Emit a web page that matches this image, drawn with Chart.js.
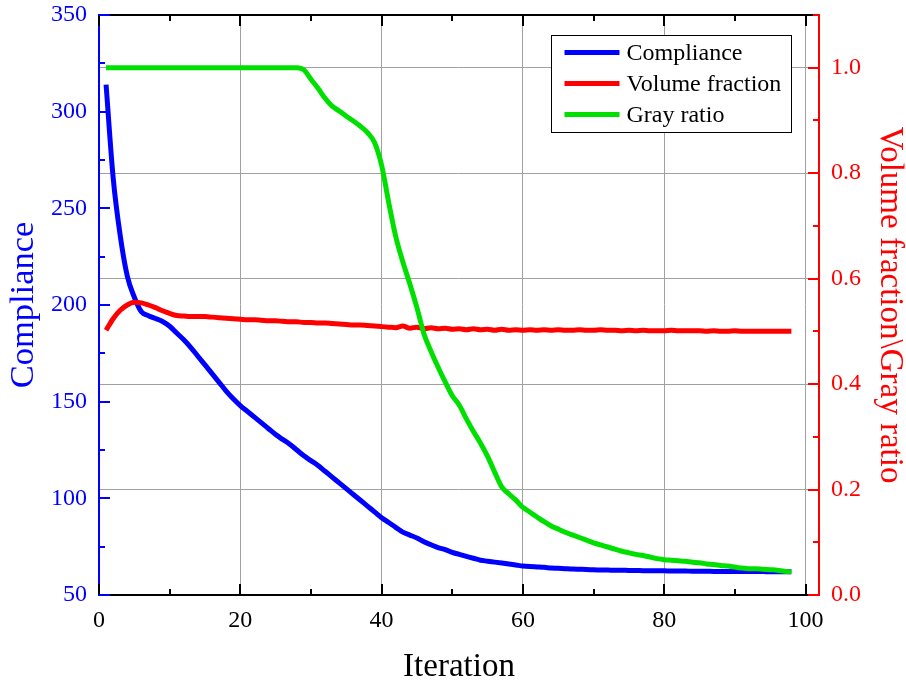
<!DOCTYPE html>
<html><head><meta charset="utf-8">
<script src="https://cdn.jsdelivr.net/npm/chart.js@4.4.0/dist/chart.umd.min.js"></script>
<style>html,body{margin:0;padding:0;background:#fff;}#wrap{width:906px;height:686px;}</style>
</head><body><div id="wrap"><canvas id="c" width="906" height="686"></canvas></div>
<script>
const iterations = [1,2,3,4,5,6,7,8,9,10,11,12,13,14,15,16,17,18,19,20,21,22,23,24,25,26,27,28,29,30,31,32,33,34,35,36,37,38,39,40,41,42,43,44,45,46,47,48,49,50,51,52,53,54,55,56,57,58,59,60,61,62,63,64,65,66,67,68,69,70,71,72,73,74,75,76,77,78,79,80,81,82,83,84,85,86,87,88,89,90,91,92,93,94,95,96,97,98];
const compliance = [314,266,236,215,204,196.5,194.5,193,191.5,189,185.5,182,178,173.5,169,164.5,160,155.5,151.5,148,145,142,139,136,133,130.5,128,125,122,119.5,117,114,111,108,105,102,99,96,93,90,87.5,85,82.5,81,79.5,77.5,76,74.5,73.5,72,71,70,69,68,67.5,67,66.5,66,65.5,65,64.7,64.5,64.3,64,63.8,63.6,63.4,63.3,63.2,63,62.9,62.9,62.8,62.8,62.7,62.7,62.6,62.6,62.5,62.5,62.4,62.4,62.4,62.3,62.3,62.3,62.2,62.2,62.2,62.2,62.1,62.1,62.1,62.1,62,62,62,62];
const volumeFraction = [0.502,0.524,0.540,0.550,0.555,0.554,0.550,0.545,0.539,0.534,0.530,0.529,0.528,0.528,0.528,0.527,0.526,0.525,0.524,0.523,0.522,0.522,0.521,0.520,0.520,0.519,0.518,0.518,0.517,0.517,0.516,0.516,0.515,0.514,0.513,0.512,0.512,0.511,0.510,0.509,0.508,0.507,0.510,0.506,0.508,0.505,0.507,0.505,0.506,0.504,0.505,0.503,0.505,0.503,0.504,0.502,0.504,0.502,0.503,0.502,0.503,0.502,0.503,0.502,0.503,0.502,0.502,0.503,0.502,0.502,0.503,0.502,0.502,0.501,0.502,0.501,0.502,0.501,0.501,0.501,0.502,0.501,0.501,0.501,0.501,0.500,0.501,0.500,0.500,0.501,0.500,0.500,0.500,0.500,0.500,0.500,0.500,0.500];
const grayRatio = [1,1,1,1,1,1,1,1,1,1,1,1,1,1,1,1,1,1,1,1,1,1,1,1,1,1,1,1,0.996,0.978,0.961,0.942,0.927,0.918,0.908,0.899,0.889,0.877,0.858,0.815,0.745,0.680,0.632,0.590,0.545,0.495,0.462,0.432,0.404,0.378,0.360,0.334,0.310,0.288,0.263,0.233,0.205,0.192,0.180,0.166,0.157,0.148,0.139,0.131,0.125,0.119,0.114,0.109,0.104,0.099,0.095,0.091,0.087,0.083,0.080,0.077,0.075,0.072,0.069,0.067,0.066,0.065,0.064,0.062,0.061,0.059,0.058,0.056,0.055,0.053,0.051,0.050,0.050,0.049,0.048,0.047,0.045,0.044];

const xMajorTicks = [0,20,40,60,80,100];
const xMinorTicks = [10,30,50,70,90];
const leftMajorTicks = [50,100,150,200,250,300,350];
const leftMinorTicks = [75,125,175,225,275,325];
const rightMajorTicks = [0,0.2,0.4,0.6,0.8,1.0];
const rightMinorTicks = [0.1,0.3,0.5,0.7,0.9,1.1];

const FONT = "'Liberation Serif','Times New Roman',serif";
const GRID = '#a0a0a0';
const BLUE = '#0000ff', RED = '#ff0000', GREEN = '#00e000';

function pts(ys){ return iterations.map((x,i)=>({x:x,y:ys[i]})); }
function noPad(s){ s.paddingTop = 0; s.paddingBottom = 0; s.paddingLeft = 0; s.paddingRight = 0; }

const inwardTicks = {
  id:'inwardTicks',
  afterDraw(chart){
    const ctx = chart.ctx, a = chart.chartArea;
    const sx = chart.scales.x, sl = chart.scales.y, sr = chart.scales.y2;
    ctx.save(); ctx.lineWidth = 2; ctx.lineCap = 'butt';
    const seg = (x1,y1,x2,y2,c)=>{ctx.strokeStyle=c;ctx.beginPath();ctx.moveTo(x1,y1);ctx.lineTo(x2,y2);ctx.stroke();};
    const L = 11, S = 6;
    xMajorTicks.forEach(v=>{const p=Math.round(sx.getPixelForValue(v)); seg(p,a.bottom,p,a.bottom-L,'#000'); seg(p,a.top,p,a.top+L,'#000');});
    xMinorTicks.forEach(v=>{const p=Math.round(sx.getPixelForValue(v)); seg(p,a.bottom,p,a.bottom-S,'#000'); seg(p,a.top,p,a.top+S,'#000');});
    leftMajorTicks.forEach(v=>{const p=Math.round(sl.getPixelForValue(v)); seg(a.left,p,a.left+L,p,BLUE);});
    leftMinorTicks.forEach(v=>{const p=Math.round(sl.getPixelForValue(v)); seg(a.left,p,a.left+S,p,BLUE);});
    rightMajorTicks.forEach(v=>{const p=Math.round(sr.getPixelForValue(v)); seg(a.right,p,a.right-L,p,RED);});
    rightMinorTicks.forEach(v=>{const p=Math.round(sr.getPixelForValue(v)); seg(a.right,p,a.right-S,p,RED);});
    ctx.restore();
  }
};

const boxLegend = {
  id:'boxLegend',
  afterDraw(chart){
    const ctx = chart.ctx, a = chart.chartArea;
    const bx = a.right - 267.5, by = a.top + 20.5, bw = 240, bh = 97;
    ctx.save();
    ctx.fillStyle = '#fff'; ctx.fillRect(bx,by,bw,bh);
    ctx.strokeStyle = '#000'; ctx.lineWidth = 1; ctx.strokeRect(bx,by,bw,bh);
    ctx.font = '24px ' + FONT; ctx.textBaseline = 'middle'; ctx.textAlign = 'left';
    const ds = chart.data.datasets.slice().sort((p,q)=>q.order-p.order);
    ds.forEach((d,i)=>{
      const y = by + 17 + i*31;
      ctx.strokeStyle = d.borderColor; ctx.lineWidth = 5;
      ctx.beginPath(); ctx.moveTo(bx+13,y); ctx.lineTo(bx+68,y); ctx.stroke();
      ctx.fillStyle = '#000'; ctx.fillText(d.label, bx+75, y+1);
    });
    ctx.restore();
  }
};

new Chart(document.getElementById('c'), {
  type:'line',
  data:{datasets:[
    {label:'Compliance', data:pts(compliance), yAxisID:'y', borderColor:BLUE, backgroundColor:BLUE, borderWidth:5, pointRadius:0, cubicInterpolationMode:'monotone', order:3},
    {label:'Volume fraction', data:pts(volumeFraction), yAxisID:'y2', borderColor:RED, backgroundColor:RED, borderWidth:5, pointRadius:0, cubicInterpolationMode:'monotone', order:2},
    {label:'Gray ratio', data:pts(grayRatio), yAxisID:'y2', borderColor:GREEN, backgroundColor:GREEN, borderWidth:5, pointRadius:0, cubicInterpolationMode:'monotone', order:1}
  ]},
  options:{
    responsive:false, animation:false, events:[],
    layout:{padding:0},
    plugins:{legend:{display:false}, tooltip:{enabled:false}},
    scales:{
      x:{type:'linear', position:'bottom', min:0, max:101.91,
        afterBuildTicks:s=>{s.ticks = xMajorTicks.map(v=>({value:v}));},
        afterFit:s=>{s.height = 91; noPad(s);},
        ticks:{autoSkip:false, color:'#000', font:{family:FONT,size:24}, padding:11, maxRotation:0},
        grid:{drawTicks:false, lineWidth:1, color:c=>(c.tick && c.tick.value>0)?GRID:'rgba(0,0,0,0)'},
        border:{display:true, color:'#000', width:2},
        title:{display:true, text:'Iteration', color:'#000', font:{family:FONT,size:33,lineHeight:1}, padding:{top:0,bottom:2}}
      },
      xTop:{type:'linear', position:'top', min:0, max:101.91,
        afterFit:s=>{s.height = 15; noPad(s);},
        ticks:{display:false},
        grid:{drawOnChartArea:false, drawTicks:false},
        border:{display:true, color:'#000', width:2}
      },
      y:{type:'linear', position:'left', min:50, max:350,
        afterBuildTicks:s=>{s.ticks = leftMajorTicks.map(v=>({value:v}));},
        afterFit:s=>{s.width = 99; noPad(s);},
        ticks:{color:BLUE, font:{family:FONT,size:24}, padding:12, callback:v=>String(v)},
        grid:{drawOnChartArea:false, drawTicks:false},
        border:{display:true, color:BLUE, width:2},
        title:{display:true, text:'Compliance', color:BLUE, font:{family:FONT,size:34.5,lineHeight:1}, padding:{top:7,bottom:0}}
      },
      y2:{type:'linear', position:'right', min:0, max:1.1,
        afterBuildTicks:s=>{s.ticks = rightMajorTicks.map(v=>({value:v}));},
        afterFit:s=>{s.width = 87; noPad(s);},
        ticks:{color:RED, font:{family:FONT,size:24}, padding:12, callback:v=>Number(v).toFixed(1)},
        grid:{drawTicks:false, lineWidth:1, color:c=>(c.tick && c.tick.value>0.01)?GRID:'rgba(0,0,0,0)'},
        border:{display:true, color:RED, width:2},
        title:{display:true, text:'Volume fraction\\Gray ratio', color:RED, font:{family:FONT,size:33,lineHeight:1}, padding:{top:0,bottom:0}}
      }
    }
  },
  plugins:[inwardTicks, boxLegend]
});
</script>
</body></html>
